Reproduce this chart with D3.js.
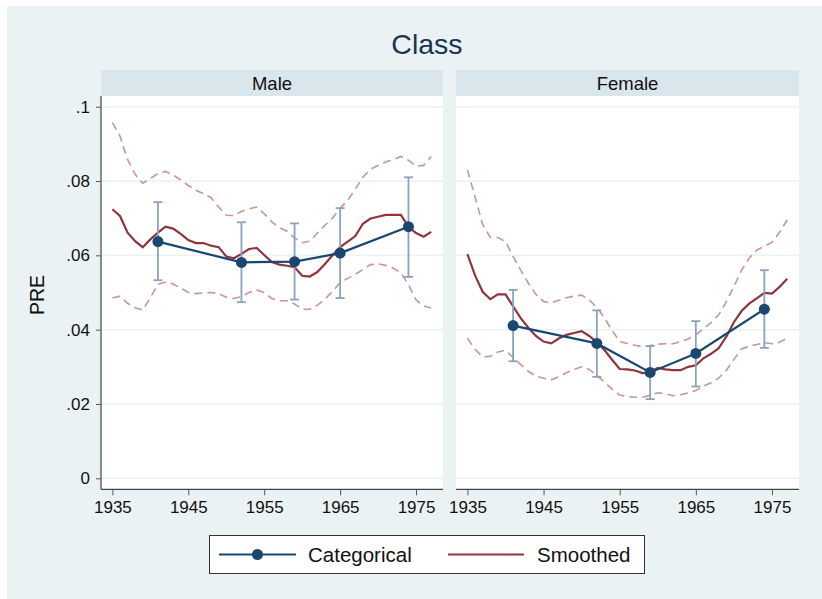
<!DOCTYPE html>
<html>
<head>
<meta charset="utf-8">
<script src="https://cdn.jsdelivr.net/npm/d3@7"></script>
<style>
  body { margin: 0; background: #fff; }
  svg { display: block; font-family: "Liberation Sans", Arial, Helvetica, sans-serif; }
</style>
</head>
<body>
<svg id="chart" width="822" height="599"></svg>
<script>
// categorical estimates (point + 95% CI)
var catYears = [1941, 1952, 1959, 1965, 1974];
var maleCat = [0.0637, 0.0581, 0.0583, 0.0606, 0.0677];
var maleCatLo = [0.0533, 0.0474, 0.0481, 0.0485, 0.0542];
var maleCatHi = [0.0743, 0.0689, 0.0686, 0.0727, 0.0810];
var femaleCat = [0.0411, 0.0363, 0.0285, 0.0336, 0.0455];
var femaleCatLo = [0.0315, 0.0273, 0.0213, 0.0247, 0.0351];
var femaleCatHi = [0.0507, 0.0452, 0.0356, 0.0423, 0.0560];

// smoothed estimates by birth year
var years = [1935, 1936, 1937, 1938, 1939, 1940, 1941, 1942, 1943, 1944,
             1945, 1946, 1947, 1948, 1949, 1950, 1951, 1952, 1953, 1954,
             1955, 1956, 1957, 1958, 1959, 1960, 1961, 1962, 1963, 1964,
             1965, 1966, 1967, 1968, 1969, 1970, 1971, 1972, 1973, 1974,
             1975, 1976, 1977];
var maleSmooth = [.0724, .0706, .0661, .0638, .0622, .0643, .0661, .0677, .0672, .0658,
                  .0641, .0633, .0633, .0626, .0622, .0597, .0592, .0604, .0617, .0620,
                  .0601, .0582, .0575, .0572, .0568, .0545, .0543, .0555, .0577, .0600,
                  .0622, .0637, .0652, .0685, .0699, .0704, .0709, .0709, .0709, .0677,
                  .0660, .0650, .0663];
var maleSmoothHi = [.0957, .0921, .0858, .0818, .0794, .0807, .0820, .0826, .0816, .0803,
                    .0788, .0775, .0766, .0755, .0730, .0708, .0707, .0718, .0725, .0730,
                    .0712, .0690, .0675, .0665, .0647, .0634, .0638, .0660, .0681, .0700,
                    .0727, .0748, .0778, .0810, .0832, .0842, .0851, .0858, .0866, .0856,
                    .0840, .0842, .0866];
var maleSmoothLo = [.0485, .0490, .0471, .0459, .0453, .0486, .0522, .0528, .0523, .0512,
                    .0500, .0497, .0499, .0500, .0497, .0487, .0484, .0489, .0500, .0507,
                    .0500, .0484, .0478, .0478, .0469, .0455, .0455, .0466, .0482, .0503,
                    .0527, .0538, .0549, .0562, .0575, .0577, .0573, .0566, .0553, .0521,
                    .0480, .0464, .0458];
var femaleSmooth = [.0603, .0546, .0502, .0482, .0495, .0495, .0463, .0431, .0405, .0383,
                    .0368, .0363, .0376, .0386, .0391, .0396, .0383, .0366, .0345, .0319,
                    .0294, .0293, .0290, .0283, .0286, .0297, .0293, .0291, .0291, .0300,
                    .0304, .0323, .0335, .0350, .0381, .0420, .0450, .0470, .0484, .0499,
                    .0497, .0515, .0537];
var femaleSmoothHi = [.0830, .0757, .0683, .0648, .0648, .0637, .0597, .0560, .0525, .0495,
                      .0476, .0472, .0479, .0486, .0490, .0493, .0480, .0460, .0431, .0398,
                      .0368, .0363, .0358, .0354, .0357, .0361, .0362, .0362, .0368, .0375,
                      .0386, .0403, .0419, .0440, .0475, .0516, .0560, .0592, .0614, .0624,
                      .0635, .0662, .0695];
var femaleSmoothLo = [.0377, .0347, .0327, .0328, .0340, .0345, .0325, .0306, .0288, .0275,
                      .0269, .0265, .0273, .0284, .0293, .0300, .0293, .0277, .0259, .0240,
                      .0224, .0220, .0218, .0218, .0224, .0230, .0228, .0222, .0225, .0230,
                      .0236, .0248, .0257, .0270, .0290, .0320, .0348, .0355, .0360, .0365,
                      .0362, .0366, .0377];

var xTicks = [1935, 1945, 1955, 1965, 1975];
var yTicks = [0, 0.02, 0.04, 0.06, 0.08, 0.1];
var yTickLabels = ['0', '.02', '.04', '.06', '.08', '.1'];

var panels = [
  { name: 'Male', x0: 101, x1: 443, cat: maleCat, lo: maleCatLo, hi: maleCatHi,
    sm: maleSmooth, smLo: maleSmoothLo, smHi: maleSmoothHi, yAxis: true },
  { name: 'Female', x0: 456, x1: 799, cat: femaleCat, lo: femaleCatLo, hi: femaleCatHi,
    sm: femaleSmooth, smLo: femaleSmoothLo, smHi: femaleSmoothHi, yAxis: false }
];

var NAVY = '#1a476f';
var MAROON = '#90353b';
var CI_BLUE = '#8aa3bd';
var DASH = '#c99597';
var GRID = '#eaf2f3';
var FONT = '"Liberation Sans", Arial, Helvetica, sans-serif';

var svg = d3.select('#chart');

// outer background
svg.append('rect').attr('x', 0).attr('y', 0).attr('width', 822).attr('height', 599).attr('fill', '#fff');
svg.append('rect').attr('x', 7).attr('y', 6).attr('width', 815).attr('height', 593).attr('fill', '#eaf2f3');

svg.append('text')
  .attr('x', 427).attr('y', 53.5)
  .attr('text-anchor', 'middle')
  .attr('font-size', 28.5)
  .attr('fill', '#1c3257')
  .text('Class');

var plotTop = 96, plotBottom = 489.3;
var y = d3.scaleLinear().domain([0, 0.1]).range([478.3, 106.7]);

panels.forEach(function (p) {
  var x = d3.scaleLinear().domain([1933.5, 1978.55]).range([p.x0, p.x1]);
  var g = svg.append('g');

  // strip
  g.append('rect').attr('x', p.x0).attr('y', 70).attr('width', p.x1 - p.x0).attr('height', 26)
    .attr('fill', '#d9e6eb');
  g.append('text').attr('x', (p.x0 + p.x1) / 2).attr('y', 89.5)
    .attr('text-anchor', 'middle').attr('font-size', 18.5).attr('fill', '#111')
    .text(p.name);

  // plot region
  g.append('rect').attr('x', p.x0).attr('y', plotTop).attr('width', p.x1 - p.x0)
    .attr('height', plotBottom - plotTop).attr('fill', '#fff');

  // grid
  g.selectAll('line.grid').data(yTicks).join('line')
    .attr('class', 'grid')
    .attr('x1', p.x0).attr('x2', p.x1)
    .attr('y1', function (d) { return y(d); }).attr('y2', function (d) { return y(d); })
    .attr('stroke', GRID).attr('stroke-width', 1.5);

  // x axis
  var xAxis = d3.axisBottom(x).tickValues(xTicks).tickFormat(d3.format('d')).tickSize(6).tickPadding(6);
  var xa = g.append('g').attr('transform', 'translate(0,' + plotBottom + ')').call(xAxis)
    .attr('font-family', FONT).attr('font-size', 17);
  xa.select('.domain').attr('d', 'M' + p.x0 + ',0H' + p.x1).attr('stroke', '#444').attr('stroke-width', 1.2);
  xa.selectAll('.tick line').attr('stroke', '#555');
  xa.selectAll('.tick text').attr('fill', '#111');

  if (p.yAxis) {
    var yAxis = d3.axisLeft(y).tickValues(yTicks)
      .tickFormat(function (d, i) { return yTickLabels[i]; }).tickSize(5).tickPadding(6);
    var ya = g.append('g').attr('transform', 'translate(' + p.x0 + ',0)').call(yAxis)
      .attr('font-family', FONT).attr('font-size', 17);
    ya.select('.domain').attr('d', 'M0,' + plotTop + 'V' + plotBottom).attr('stroke', '#444').attr('stroke-width', 1.2);
    ya.selectAll('.tick line').attr('stroke', '#555');
    ya.selectAll('.tick text').attr('fill', '#111');
  }

  // smoothed CI (dashed)
  var line = d3.line().x(function (d) { return x(d[0]); }).y(function (d) { return y(d[1]); });
  [p.smHi, p.smLo].forEach(function (arr) {
    g.append('path').datum(years.map(function (yr, i) { return [yr, arr[i]]; }))
      .attr('d', line).attr('fill', 'none').attr('stroke', DASH)
      .attr('stroke-width', 1.6).attr('stroke-dasharray', '8,5');
  });
  // smoothed estimate
  g.append('path').datum(years.map(function (yr, i) { return [yr, p.sm[i]]; }))
    .attr('d', line).attr('fill', 'none').attr('stroke', MAROON).attr('stroke-width', 2.2);

  // categorical CI bars
  var ci = g.selectAll('g.ci').data(catYears).join('g').attr('class', 'ci');
  ci.append('line')
    .attr('x1', function (d) { return x(d); }).attr('x2', function (d) { return x(d); })
    .attr('y1', function (d, i) { return y(p.lo[i]); }).attr('y2', function (d, i) { return y(p.hi[i]); })
    .attr('stroke', CI_BLUE).attr('stroke-width', 1.8);
  ci.append('line')
    .attr('x1', function (d) { return x(d) - 4.5; }).attr('x2', function (d) { return x(d) + 4.5; })
    .attr('y1', function (d, i) { return y(p.lo[i]); }).attr('y2', function (d, i) { return y(p.lo[i]); })
    .attr('stroke', CI_BLUE).attr('stroke-width', 1.8);
  ci.append('line')
    .attr('x1', function (d) { return x(d) - 4.5; }).attr('x2', function (d) { return x(d) + 4.5; })
    .attr('y1', function (d, i) { return y(p.hi[i]); }).attr('y2', function (d, i) { return y(p.hi[i]); })
    .attr('stroke', CI_BLUE).attr('stroke-width', 1.8);

  // categorical line + markers
  g.append('path').datum(catYears.map(function (yr, i) { return [yr, p.cat[i]]; }))
    .attr('d', line).attr('fill', 'none').attr('stroke', NAVY).attr('stroke-width', 2.2);
  g.selectAll('circle.pt').data(catYears).join('circle').attr('class', 'pt')
    .attr('cx', function (d) { return x(d); })
    .attr('cy', function (d, i) { return y(p.cat[i]); })
    .attr('r', 5.5).attr('fill', NAVY);
});

// y axis title
svg.append('text')
  .attr('transform', 'translate(44,295) rotate(-90)')
  .attr('text-anchor', 'middle')
  .attr('font-size', 19.5).attr('fill', '#111')
  .text('PRE');

// legend
var lg = svg.append('g');
lg.append('rect').attr('x', 209.5).attr('y', 535.5).attr('width', 435).attr('height', 38)
  .attr('fill', '#fff').attr('stroke', '#333').attr('stroke-width', 1);
lg.append('line').attr('x1', 219).attr('x2', 296).attr('y1', 554.5).attr('y2', 554.5)
  .attr('stroke', NAVY).attr('stroke-width', 2.2);
lg.append('circle').attr('cx', 257.5).attr('cy', 554.5).attr('r', 5.5).attr('fill', NAVY);
lg.append('text').attr('x', 308).attr('y', 561.5).attr('font-size', 20.5).attr('fill', '#111').text('Categorical');
lg.append('line').attr('x1', 448).attr('x2', 524).attr('y1', 554.5).attr('y2', 554.5)
  .attr('stroke', MAROON).attr('stroke-width', 2.2);
lg.append('text').attr('x', 537).attr('y', 561.5).attr('font-size', 20.5).attr('fill', '#111').text('Smoothed');
</script>
</body>
</html>
